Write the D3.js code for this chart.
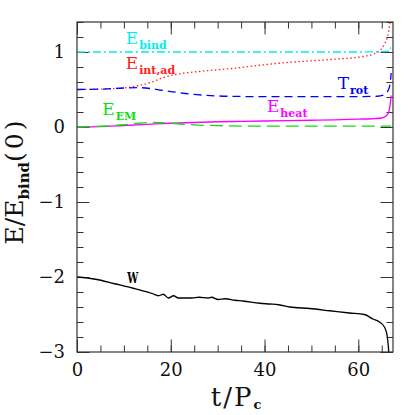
<!DOCTYPE html>
<html>
<head>
<meta charset="utf-8">
<script src="https://cdn.jsdelivr.net/npm/d3@7"></script>
<style>
  body { margin: 0; background: #fff; }
  text { font-family: "DejaVu Serif", serif; }
</style>
</head>
<body>
<div id="chart"></div>
<script>
// data: [t/Pc, E/Ebind(0)]
const eBind = [[0, 1], [20, 1], [40, 1], [60, 1], [66.6, 1.01], [66.9, 1.06]];
const eIntAd = [[0, 0.50], [5, 0.505], [10, 0.52], [13, 0.55], [16, 0.60], [18, 0.65], [21, 0.70],
    [26, 0.74], [33, 0.78], [43, 0.85], [54, 0.90], [61, 0.94], [63.5, 0.98], [64.8, 1.03],
    [65.6, 1.11], [66.1, 1.18], [66.5, 1.28], [66.8, 1.42]];
const tRot = [[0, 0.50], [5, 0.505], [10, 0.52], [13, 0.525], [16, 0.51], [18, 0.49], [21, 0.465],
    [24, 0.44], [27, 0.425], [32, 0.41], [40, 0.405], [50, 0.405], [60, 0.405], [64, 0.41],
    [65.5, 0.43], [66.3, 0.48], [66.8, 0.58], [67, 0.72]];
const eHeat = [[0, 0], [5, 0.005], [10, 0.02], [15, 0.035], [20, 0.05], [25, 0.06], [30, 0.07],
    [35, 0.075], [40, 0.08], [45, 0.085], [50, 0.09], [55, 0.095], [60, 0.105], [63, 0.11],
    [65, 0.12], [66, 0.15], [66.5, 0.2], [66.8, 0.3], [67, 0.42]];
const eEM = [[0, 0], [5, 0.01], [10, 0.03], [13, 0.05], [16, 0.06], [19, 0.055], [22, 0.04],
    [26, 0.025], [30, 0.018], [35, 0.013], [45, 0.012], [55, 0.012], [65, 0.012], [67, 0.012]];
const w = [[0, -2], [4, -2.03], [8, -2.09], [12, -2.15], [16, -2.22], [17.4, -2.25], [18.4, -2.23],
    [19.5, -2.28], [20.6, -2.25], [21.6, -2.28], [24.5, -2.28], [26, -2.27], [28, -2.28],
    [28.7, -2.27], [30.1, -2.30], [31.6, -2.29], [33.7, -2.31], [35.4, -2.32], [39, -2.35],
    [41, -2.36], [43, -2.37], [45.4, -2.40], [49.6, -2.42], [53.9, -2.45], [58.1, -2.48],
    [61.3, -2.50], [63.1, -2.56], [64.5, -2.60], [65.6, -2.67], [66.2, -2.80], [66.5, -3.0]];

const xMajor = [0, 20, 40, 60];
const xMinor = d3.range(0, 68, 5);
const yMajor = [-3, -2, -1, 0, 1];
const yMinor = d3.range(-3, 1.41, 0.2);

// dimensions
const width = 415,
    height = 415,
    margin = { top: 22, right: 22, bottom: 63, left: 77 };

const svg = d3.select("#chart")
    .append("svg")
    .attr("width", width)
    .attr("height", height);

// scales
const xScale = d3.scaleLinear()
    .domain([0, 67.4])
    .range([margin.left, width - margin.right]);
const yScale = d3.scaleLinear()
    .domain([-3, 1.4])
    .range([height - margin.bottom, margin.top]);

svg.append("defs").append("clipPath")
    .attr("id", "plot-clip")
    .append("rect")
    .attr("x", margin.left)
    .attr("y", margin.top)
    .attr("width", width - margin.left - margin.right)
    .attr("height", height - margin.top - margin.bottom);

// axes: minor ticks, then major ticks with labels
const fmt = d => d < 0 ? "\u2212" + Math.abs(d) : String(d);
const bottom = height - margin.bottom,
    right = width - margin.right;

function addAxis(axis, transform, labels) {
    const g = svg.append("g")
        .attr("transform", transform)
        .call(axis);
    g.select(".domain").remove();
    g.selectAll(".tick line").attr("stroke", "#333").attr("stroke-width", 1);
    if (!labels) g.selectAll(".tick text").remove();
    else g.selectAll(".tick text")
        .style("font-family", "DejaVu Serif")
        .style("font-size", "18px")
        .attr("fill", "#111");
    return g;
}

addAxis(d3.axisBottom(xScale).tickValues(xMinor).tickSize(-6.5), `translate(0,${bottom})`, false);
addAxis(d3.axisBottom(xScale).tickValues(xMajor).tickSize(-12.5).tickPadding(11).tickFormat(fmt), `translate(0,${bottom})`, true);
addAxis(d3.axisTop(xScale).tickValues(xMinor).tickSize(-6.5), `translate(0,${margin.top})`, false);
addAxis(d3.axisTop(xScale).tickValues(xMajor).tickSize(-12.5), `translate(0,${margin.top})`, false);
addAxis(d3.axisLeft(yScale).tickValues(yMinor).tickSize(-6.5), `translate(${margin.left},0)`, false);
addAxis(d3.axisLeft(yScale).tickValues(yMajor).tickSize(-12.5).tickPadding(12).tickFormat(fmt), `translate(${margin.left},0)`, true);
addAxis(d3.axisRight(yScale).tickValues(yMinor).tickSize(-6.5), `translate(${right},0)`, false);
addAxis(d3.axisRight(yScale).tickValues(yMajor).tickSize(-12.5), `translate(${right},0)`, false);

// curves
const line = d3.line()
    .x(d => xScale(d[0]))
    .y(d => yScale(d[1]))
    .curve(d3.curveMonotoneX);

const curves = [
    { data: eHeat, color: "#ff00ff", dash: null },
    { data: eEM, color: "#11dd11", dash: "13,6" },
    { data: eBind, color: "#00eeee", dash: "8,3,2,3" },
    { data: eIntAd, color: "#ff2020", dash: "1.5,2.5" },
    { data: tRot, color: "#0000ff", dash: "8,5" },
    { data: w, color: "#000000", dash: null }
];

svg.append("g")
    .attr("clip-path", "url(#plot-clip)")
    .selectAll("path")
    .data(curves)
    .enter()
    .append("path")
    .attr("d", d => line(d.data))
    .attr("fill", "none")
    .attr("stroke", d => d.color)
    .attr("stroke-width", 1.3)
    .attr("stroke-dasharray", d => d.dash);

// frame
svg.append("rect")
    .attr("x", margin.left)
    .attr("y", margin.top)
    .attr("width", width - margin.left - margin.right)
    .attr("height", height - margin.top - margin.bottom)
    .attr("fill", "none")
    .attr("stroke", "#333")
    .attr("stroke-width", 1.2);

// curve labels
const curveLabels = [
    { main: "E", sub: "bind", color: "#00eeee", t: 10.4, v: 1.11 },
    { main: "E", sub: "int,ad", color: "#ff2020", t: 10.4, v: 0.77 },
    { main: "T", sub: "rot", color: "#0000ff", t: 55.6, v: 0.51 },
    { main: "E", sub: "heat", color: "#ff00ff", t: 40.5, v: 0.195 },
    { main: "E", sub: "EM", color: "#11dd11", t: 5.4, v: 0.155 }
];

const labelText = svg.append("g")
    .selectAll("text")
    .data(curveLabels)
    .enter()
    .append("text")
    .attr("x", d => xScale(d.t))
    .attr("y", d => yScale(d.v))
    .attr("fill", d => d.color)
    .style("font-size", "17px");
labelText.append("tspan").text(d => d.main);
labelText.append("tspan")
    .attr("dy", 5)
    .attr("dx", 1)
    .style("font-size", "11px")
    .style("font-weight", "bold")
    .text(d => d.sub);

svg.append("text")
    .attr("x", xScale(10.7))
    .attr("y", yScale(-2.074))
    .attr("textLength", 11)
    .attr("lengthAdjust", "spacingAndGlyphs")
    .style("font-size", "15px")
    .style("font-weight", "bold")
    .attr("fill", "#000")
    .text("W");

// axis titles
const xTitle = svg.append("text")
    .attr("x", 237)
    .attr("y", 406)
    .attr("text-anchor", "middle")
    .attr("fill", "#111")
    .style("font-size", "26px")
    .style("letter-spacing", "2px");
xTitle.append("tspan").text("t/P");
xTitle.append("tspan")
    .attr("dy", 3)
    .style("font-size", "13px")
    .style("font-weight", "bold")
    .text("c");

const yTitle = svg.append("text")
    .attr("transform", "translate(23,181) rotate(-90)")
    .attr("text-anchor", "middle")
    .attr("fill", "#111")
    .style("font-size", "25px");
yTitle.append("tspan").text("E/E");
yTitle.append("tspan")
    .attr("dy", 6)
    .style("font-size", "15px")
    .style("font-weight", "bold")
    .text("bind");
yTitle.append("tspan")
    .attr("dy", -6)
    .style("letter-spacing", "3px")
    .text("(0)");
</script>
</body>
</html>
